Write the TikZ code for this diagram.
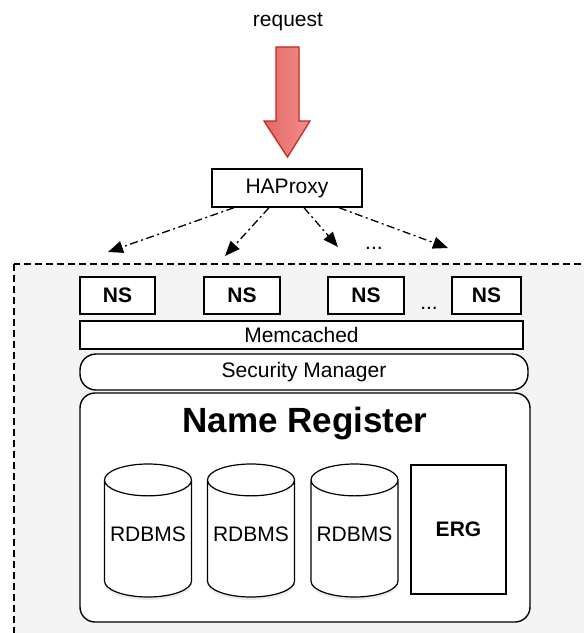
\documentclass[tikz,border=0pt]{standalone}
\usepackage{fontspec}
\setmainfont{Liberation Sans}
\usetikzlibrary{arrows.meta,shapes.geometric,shadows}
\begin{document}
\begin{tikzpicture}[x=1pt,y=-1pt,
    txt/.style={font=\fontsize{21}{24}\selectfont},
    box/.style={shape=rectangle,draw,fill=white,line width=1.4pt,inner sep=0pt,txt},
    nsbox/.style={box,minimum height=37pt,font=\fontsize{21}{24}\selectfont\bfseries},
    dbase/.style={shape=cylinder,shape border rotate=90,aspect=0.42,draw,fill=white,line width=1.2pt,inner sep=0pt,
        minimum width=87pt,minimum height=133pt,txt,text depth=10pt,drop shadow={opacity=0.15,shadow xshift=0pt,shadow yshift=-3pt}},
    route/.style={line width=1.3pt,dash pattern=on 8pt off 3.5pt on 2pt off 3.5pt,-{Triangle[length=15pt,width=12pt]}}]
    \definecolor{ns_region}{RGB}{244,244,244}
    \definecolor{ns_arrowL}{RGB}{226,104,100}
    \definecolor{ns_arrowR}{RGB}{243,142,140}
    \definecolor{ns_arrowB}{RGB}{190,40,30}
    \useasboundingbox (0,0) rectangle (584,633);
    \clip (0,0) rectangle (584,633);
    % dashed region
    \draw[dash pattern=on 7pt off 4pt,line width=1.3pt,fill=ns_region] (14,264) rectangle (600,660);
    % request
    \node[txt] (request) at (288,22) {request};
    \path[draw=ns_arrowB,line width=1.2pt,line join=miter,left color=ns_arrowL,right color=ns_arrowR,
        drop shadow={opacity=0.15,shadow xshift=0pt,shadow yshift=-3pt}]
        (276,47) -- (299,47) -- (299,121) -- (310,121) -- (287.5,157) -- (264,121) -- (276,121) -- cycle;
    \node[box,minimum width=150pt,minimum height=38pt] (haproxy) at (287,188) {HAProxy};
    \coordinate (t1) at (108,252);
    \coordinate (t2) at (225,256);
    \coordinate (t3) at (338,247);
    \coordinate (t4) at (448,248);
    \draw[route] ([xshift=-53pt]haproxy.south) -- (t1);
    \draw[route] ([xshift=-18pt]haproxy.south) -- (t2);
    \draw[route] ([xshift=17pt]haproxy.south) -- (t3);
    \draw[route] ([xshift=52pt]haproxy.south) -- (t4);
    \node[txt,anchor=base] (dotsA) at (374,249) {...};
    % name servers
    \node[nsbox,minimum width=75pt] (ns1) at (117.5,295.5) {NS};
    \node[nsbox,minimum width=76pt] (ns2) at (242,295.5) {NS};
    \node[nsbox,minimum width=76pt] (ns3) at (366,295.5) {NS};
    \node[nsbox,minimum width=69pt] (ns4) at (486.5,295.5) {NS};
    \node[txt,anchor=base] (dotsB) at (429,309) {...};
    \node[box,minimum width=443pt,minimum height=28pt] (memcached) at (301.5,335) {Memcached};
    \node[box,rounded corners=16pt,minimum width=448pt,minimum height=36pt] (security) at (304,372) {Security Manager};
    % name register
    \node[box,rounded corners=15pt,minimum width=450pt,minimum height=229pt] (register) at (305,507.5) {};
    \node[anchor=base,font=\fontsize{35}{40}\selectfont\bfseries] (title) at (305,432) {Name Register};
    \node[dbase,anchor=shape center] (db1) at (148,530.5) {RDBMS};
    \node[dbase,anchor=shape center] (db2) at (251,530.5) {RDBMS};
    \node[dbase,anchor=shape center] (db3) at (354.5,530.5) {RDBMS};
    \node[box,line width=1.2pt,minimum width=95pt,minimum height=129pt,font=\fontsize{21}{24}\selectfont\bfseries] (erg) at (458.5,529.5) {ERG};
\end{tikzpicture}
\end{document}
